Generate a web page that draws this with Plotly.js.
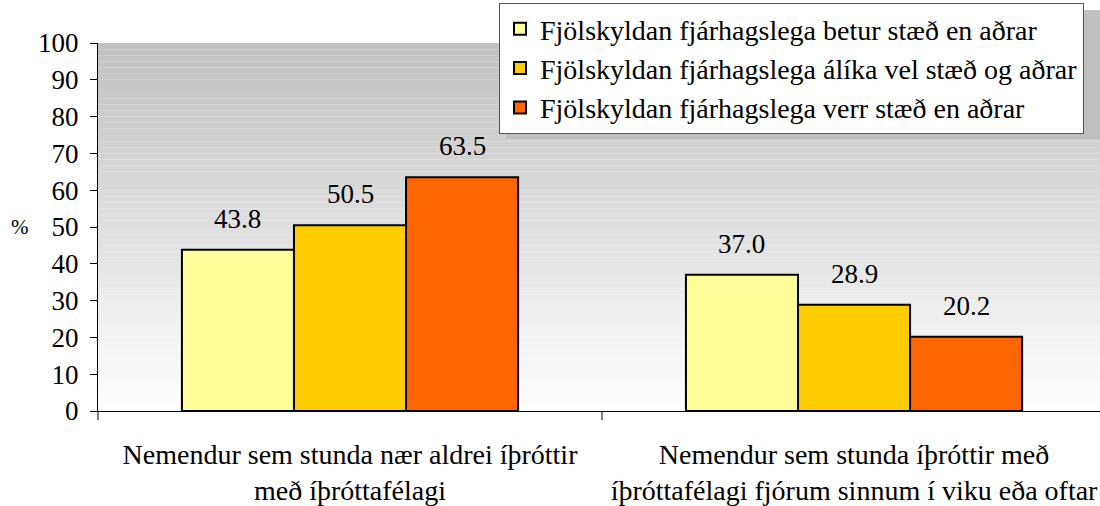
<!DOCTYPE html>
<html>
<head>
<meta charset="utf-8">
<script src="https://cdn.plot.ly/plotly-3.0.1.min.js"></script>
<style>html,body{margin:0;padding:0;background:#fff}#chart{width:1100px;height:506px}</style>
</head>
<body>
<div id="chart"></div>
<script>
var categories = ["Nemendur sem stunda nær aldrei íþróttir<br>með íþróttafélagi", "Nemendur sem stunda íþróttir með<br>íþróttafélagi fjórum sinnum í viku eða oftar"];
var seriesNames = ["Fjölskyldan fjárhagslega betur stæð en aðrar", "Fjölskyldan fjárhagslega álíka vel stæð og aðrar", "Fjölskyldan fjárhagslega verr stæð en aðrar"];
var betur = [43.8, 37.0];
var alika = [50.5, 28.9];
var verr = [63.5, 20.2];
var seriesValues = [betur, alika, verr];
var seriesColors = ["#FFFF99", "#FFCC00", "#FF6600"];
var yTicks = [0, 10, 20, 30, 40, 50, 60, 70, 80, 90, 100];

var FONT = "Times New Roman, Liberation Serif, serif";
var FS = 27;
var bargap = 0.333;

var traces = seriesValues.map(function (vals, i) {
  return {
    type: "bar",
    name: seriesNames[i],
    x: [0, 1],
    y: vals,
    legendgroup: "g" + i,
    marker: { color: seriesColors[i], line: { color: "#000", width: 2 } },
    hoverinfo: "y"
  };
});

var annotations = [];
var bw = (1 - bargap) / 3;
seriesValues.forEach(function (vals, i) {
  vals.forEach(function (v, c) {
    annotations.push({
      x: c + (i - 1) * bw, y: v, xref: "x", yref: "y",
      text: v.toFixed(1), showarrow: false, yanchor: "bottom", yshift: 14,
      font: { family: FONT, size: FS, color: "#000" }
    });
  });
});
annotations.push({
  xref: "paper", yref: "y", x: -0.078, y: 50, text: "%", showarrow: false,
  xanchor: "center", font: { family: FONT, size: 21, color: "#000" }
});

var shapes = [];
var N = 60;
for (var k = 0; k < N; k++) {
  var t = (k + 0.5) / N;
  var c = Math.round(255 - t * (255 - 192));
  shapes.push({
    type: "rect", xref: "paper", yref: "paper", layer: "below",
    x0: 0, x1: 1, y0: k / N, y1: (k + 1) / N,
    fillcolor: "rgb(" + c + "," + c + "," + c + ")", line: { width: 0 }
  });
}
// legend drop shadow
shapes.push({
  type: "rect", xref: "paper", yref: "paper", layer: "above",
  x0: 0.407, x1: 1.0, y0: 0.739, y1: 1.0897,
  fillcolor: "#c0c0c0", line: { width: 0 }
});
shapes.push({ type: "line", xref: "x", yref: "paper", x0: 0.5, x1: 0.5, y0: 0, y1: -0.025, line: { color: "#000", width: 1 } });
shapes.push({ type: "line", xref: "paper", yref: "paper", x0: 0, x1: 0, y0: 0, y1: -0.025, line: { color: "#000", width: 1 } });

var layout = {
  width: 1100, height: 506,
  margin: { l: 98, r: 0, t: 43, b: 95 },
  paper_bgcolor: "#fff",
  plot_bgcolor: "rgba(0,0,0,0)",
  barmode: "group",
  bargap: bargap,
  bargroupgap: 0,
  showlegend: true,
  font: { family: FONT, size: FS, color: "#000" },
  xaxis: {
    type: "linear",
    range: [-0.5, 1.488],
    tickmode: "array",
    tickvals: [0, 1],
    ticktext: categories,
    ticks: "",
    ticklabelstandoff: 18,
    showline: true, linecolor: "#000", linewidth: 1,
    showgrid: false, zeroline: false,
    tickfont: { family: FONT, size: 28, color: "#000" },
    fixedrange: true
  },
  yaxis: {
    range: [0, 100],
    tickvals: yTicks,
    ticks: "outside", ticklen: 7, tickcolor: "#000", tickwidth: 1,
    ticklabelstandoff: 6,
    showline: true, linecolor: "#000", linewidth: 1,
    showgrid: false, zeroline: false,
    tickfont: { family: FONT, size: FS, color: "#000" },
    fixedrange: true
  },
  legend: {
    x: 0.4002, y: 1.1087, xanchor: "left", yanchor: "top",
    bgcolor: "#fff", bordercolor: "#555", borderwidth: 1,
    font: { family: FONT, size: 28, color: "#000" },
    entrywidth: 556,
    tracegroupgap: 0,
    traceorder: "normal"
  },
  annotations: annotations,
  shapes: shapes
};

Plotly.newPlot("chart", traces, layout, { displayModeBar: false, staticPlot: true });
</script>
</body>
</html>
